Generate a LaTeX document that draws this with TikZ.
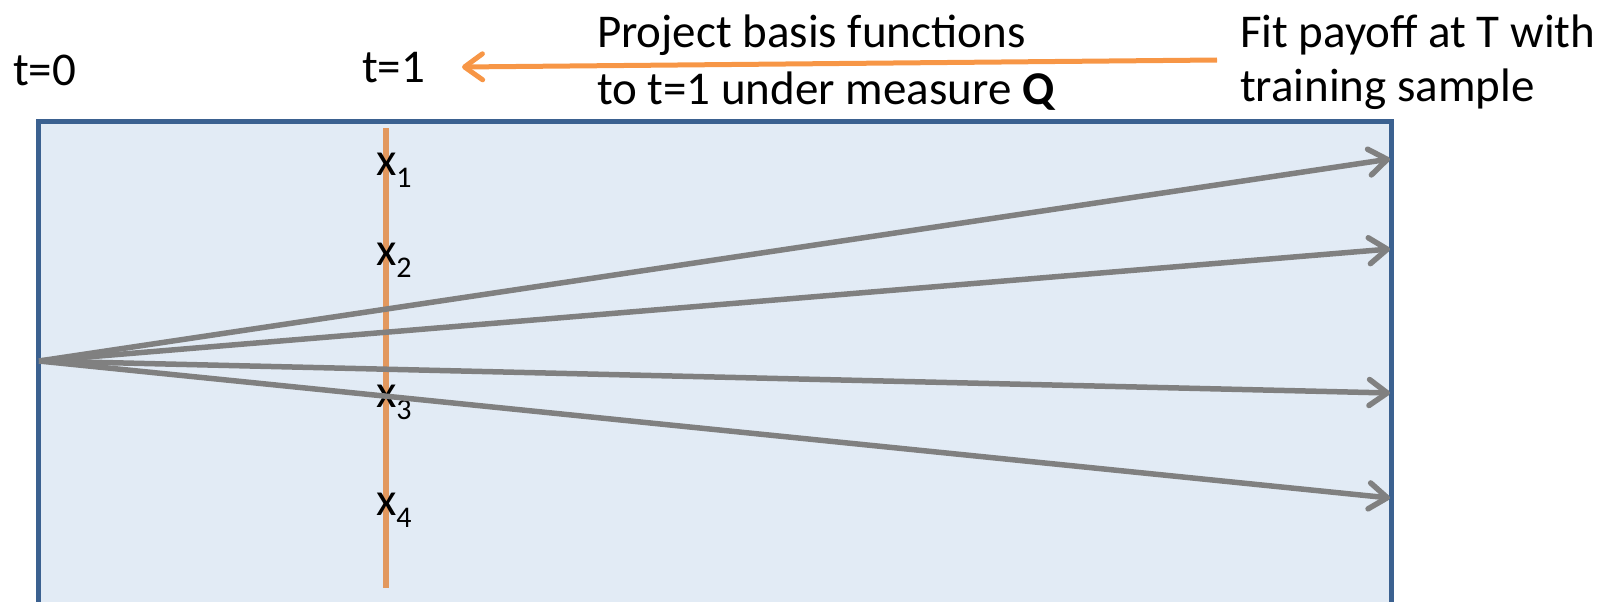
\documentclass[tikz,border=0pt]{standalone}
\usepackage{fontspec}
\setmainfont{Carlito}
\usetikzlibrary{arrows.meta}
\definecolor{boxblue}{RGB}{59,97,144}
\definecolor{boxfill}{RGB}{226,235,245}
\definecolor{pathgray}{RGB}{128,128,128}
\definecolor{arrorange}{RGB}{247,150,70}
\definecolor{lineorange}{RGB}{226,152,94}
\newcommand{\subidx}[1]{\raisebox{-12pt}{\fontsize{30}{30}\selectfont #1}}
\begin{document}
\begin{tikzpicture}[x=1pt,y=-1pt,
  lbl/.style={inner sep=0pt, outer sep=0pt, anchor=base west, font=\fontsize{47}{57}\selectfont, align=left},
  simpath/.style={draw=pathgray, line width=5.5pt, -{Straight Barb[length=18pt,width=26pt,round]}},
  projarrow/.style={draw=arrorange, line width=5pt, -{Straight Barb[length=18pt,width=26pt,round]}},
  timeline/.style={draw=lineorange, line width=5.5pt},
  bigbox/.style={draw=boxblue, fill=boxfill, line width=5pt}]
\useasboundingbox (0,0) rectangle (1604,602);
\clip (0,0) rectangle (1604,602);
% main box
\draw[bigbox] (38,121) rectangle (1391,650);
% time labels
\node[lbl] (t0) at (13,85) {t=0};
\node[lbl] (t1) at (362,83) {t=1};
% explanation texts (base anchor = baseline of last line)
\node[lbl] (proj) at (597,104) {Project basis functions\\to t=1 under measure \textbf{Q}};
\node[lbl, font=\fontsize{47}{54}\selectfont] (fit) at (1240,101) {Fit payoff at T with\\training sample};
% orange projection arrow
\coordinate (pa) at (1217,60);
\coordinate (pb) at (462,67);
\draw[projarrow] (pa) -- (pb);
% t=1 vertical line
\coordinate (vt) at (386,128);
\coordinate (vb) at (386,588);
\draw[timeline] (vt) -- (vb);
% sample labels
\node[lbl] (x1) at (376,175) {x\subidx{1}};
\node[lbl] (x2) at (376,265) {x\subidx{2}};
\node[lbl] (x3) at (376,407) {x\subidx{3}};
\node[lbl] (x4) at (376,515) {x\subidx{4}};
% simulated paths
\coordinate (o) at (39,361);
\coordinate (e1) at (1390,159);
\coordinate (e2) at (1390,249);
\coordinate (e3) at (1390,393);
\coordinate (e4) at (1390,498);
\draw[simpath] (o) -- (e1);
\draw[simpath] (o) -- (e2);
\draw[simpath] (o) -- (e3);
\draw[simpath] (o) -- (e4);
\end{tikzpicture}
\end{document}
